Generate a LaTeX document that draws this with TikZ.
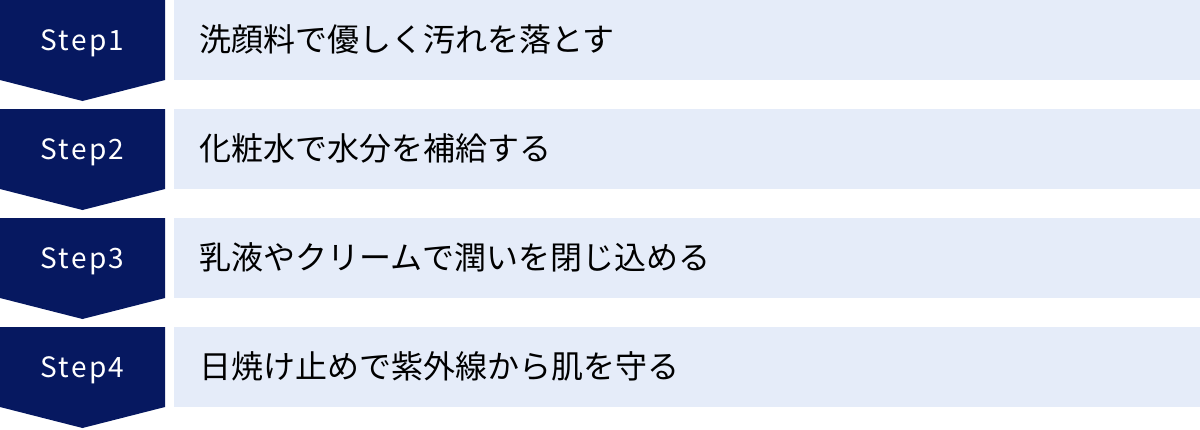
\documentclass[tikz,border=0pt]{standalone}
\usepackage{fontspec}
\setmainfont{Noto Sans CJK JP}
\usetikzlibrary{positioning}
\definecolor{stepnavy}{RGB}{6,24,96}
\definecolor{stepback}{RGB}{229,236,249}

\begin{document}
\begin{tikzpicture}
		[x=1pt, y=-1pt,
		font=\fontsize{32}{38}\selectfont
		]
		
		% Three styles: label in the chevron, pale box, text in the box
		\tikzstyle{step label}=[text=white, font=\fontsize{28}{32}\selectfont\addfontfeature{LetterSpace=8}, inner sep=0, anchor=base]
		\tikzstyle{text box}=[fill=stepback, minimum width=1026pt, minimum height=80pt, inner sep=0, outer sep=0, anchor=north west]
		\tikzstyle{box text}=[inner sep=0, anchor=base west]
		
		\useasboundingbox (0,0) rectangle (1200,429);
		
		% The steps
		\foreach \n/\txt in {1/洗顔料で優しく汚れを落とす,
			2/化粧水で水分を補給する,
			3/乳液やクリームで潤いを閉じ込める,
			4/日焼け止めで紫外線から肌を守る}{
			\pgfmathsetmacro{\rowtop}{(\n-1)*109}
			% chevron pointing down
			\fill[stepnavy] (0,\rowtop) -- (165,\rowtop) -- (165,\rowtop+80)
				-- (82.5,\rowtop+101) -- (0,\rowtop+80) -- cycle;
			% pale box with its text
			\node[text box] (box\n) at (174,\rowtop) {};
			\node[step label] (step\n) at (82.5,\rowtop+50) {Step\n};
			\node[box text] (text\n) at (199,\rowtop+51) {\txt};
		}
		\end{tikzpicture}
\end{document}
